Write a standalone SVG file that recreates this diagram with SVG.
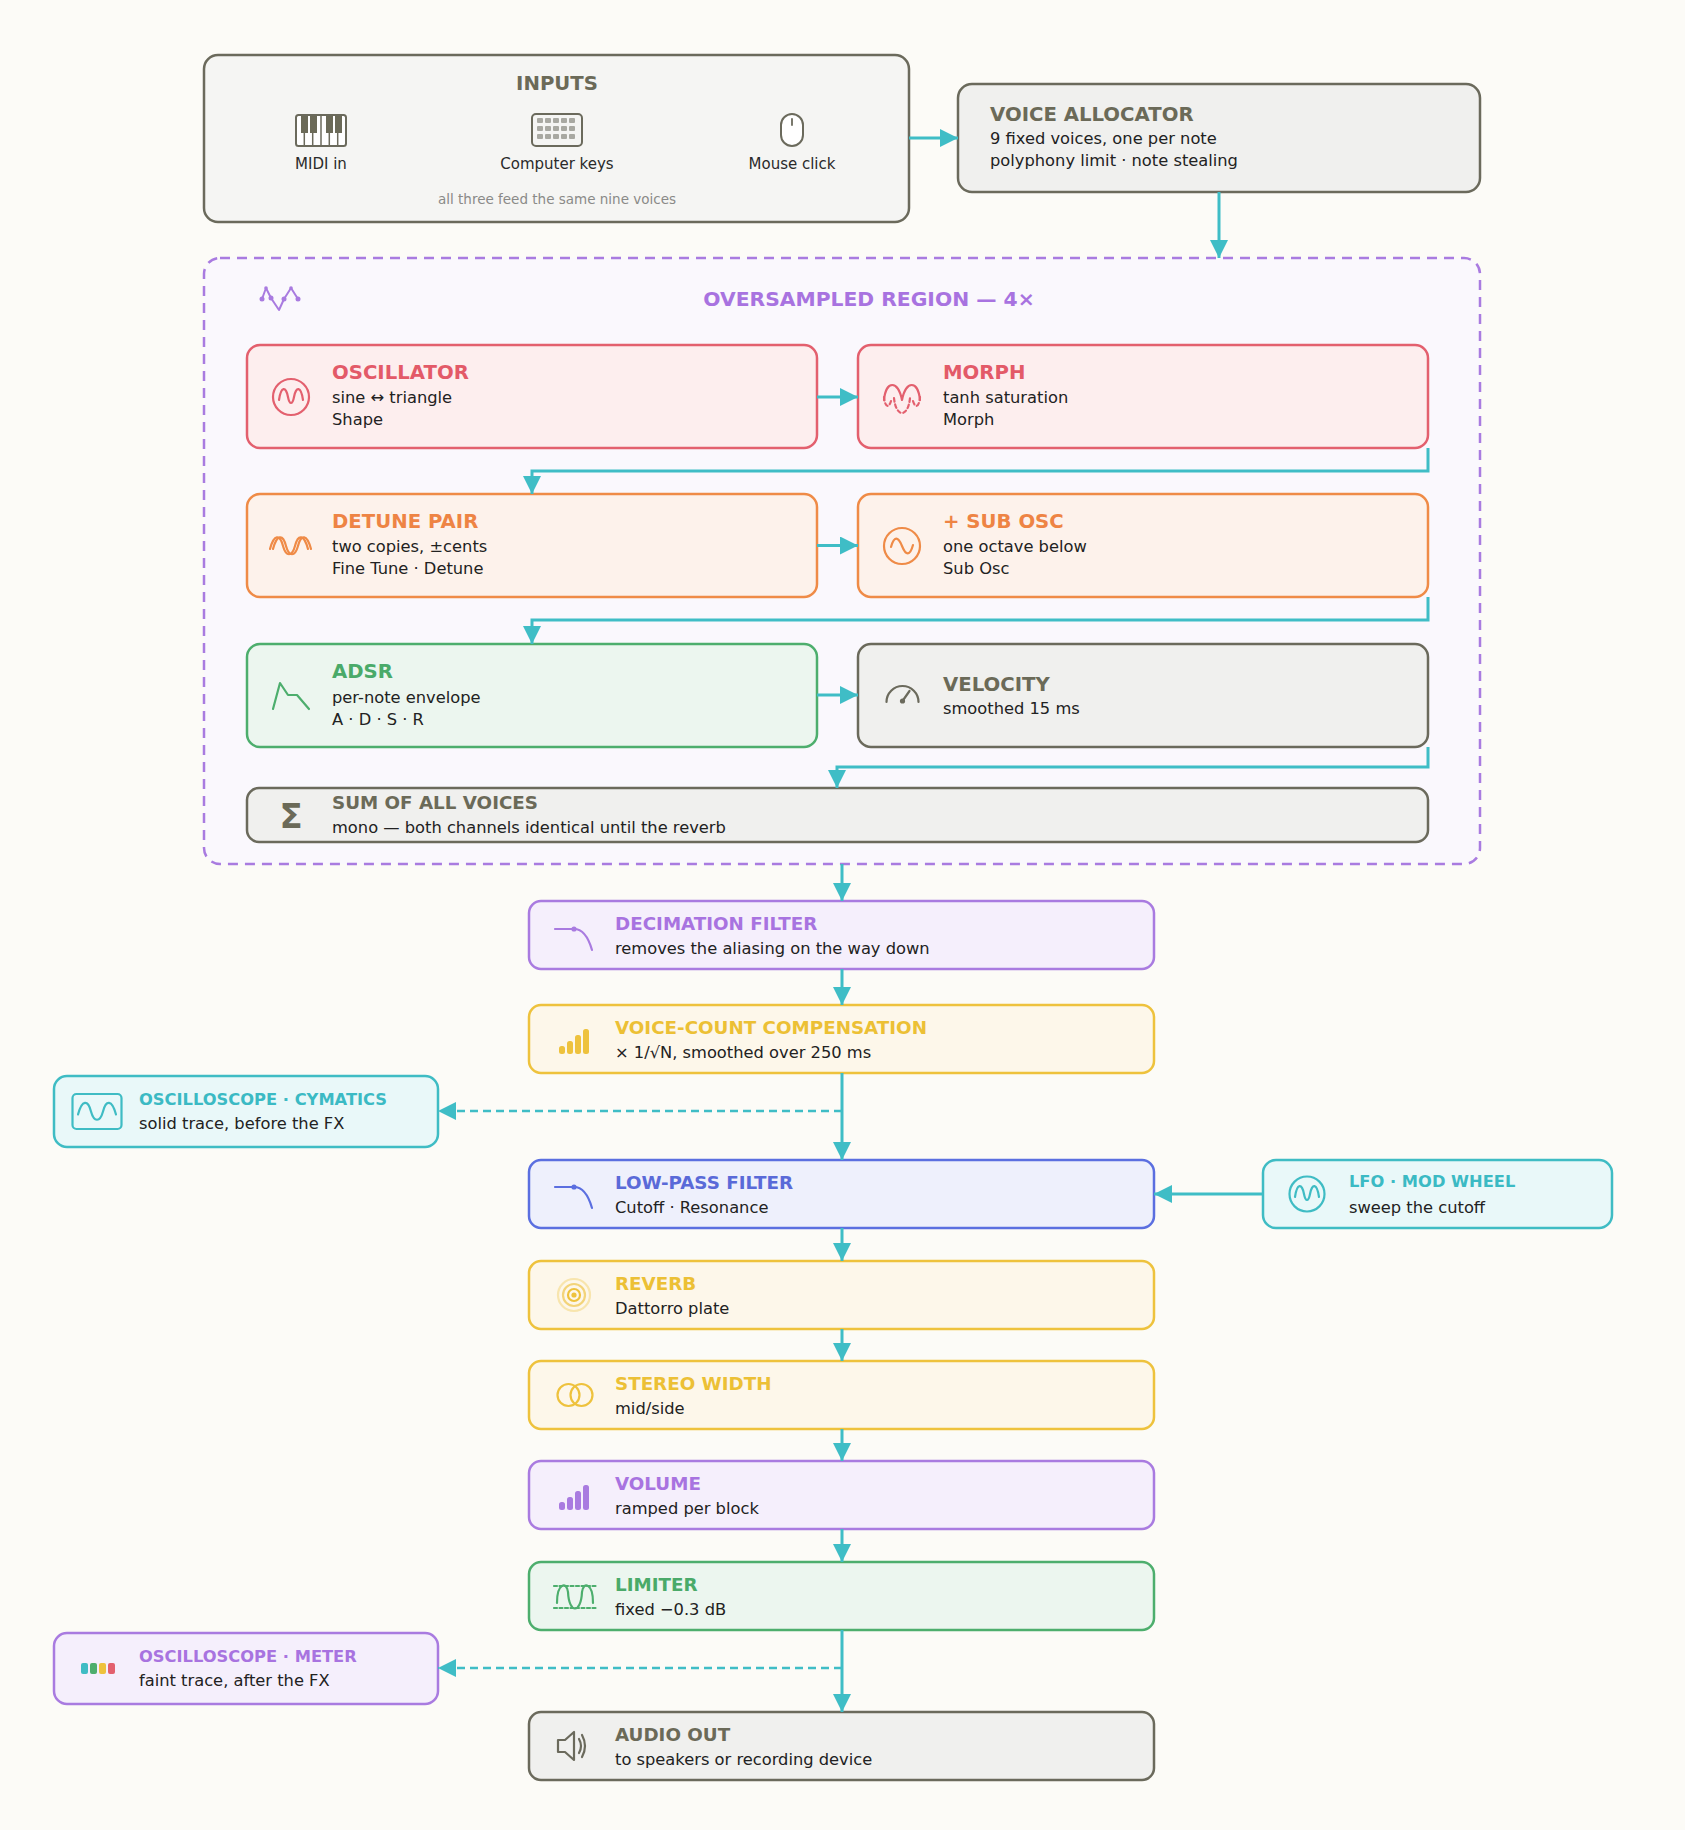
<svg xmlns="http://www.w3.org/2000/svg" width="1685" height="1830" viewBox="0 0 1685 1830">
<defs>
<style>
text { font-family: "DejaVu Sans", "Liberation Sans", sans-serif; }
.t { font-weight: bold; font-size: 19.7px; }
.tm { font-weight: bold; font-size: 18.3px; }
.ts { font-weight: bold; font-size: 16.3px; }
.b { font-size: 16.3px; fill: #222222; }
.lbl { font-size: 15px; fill: #2a2a2a; text-anchor: middle; }
.foot { font-size: 13.5px; fill: #8a8a88; text-anchor: middle; }
.box { stroke-width: 2.5; }
.ic { fill: none; stroke-width: 2.2; stroke-linecap: round; stroke-linejoin: round; }
.gray .box { fill: #f0f0ee; stroke: #6b6a5c; } .gray .t, .gray .tm { fill: #6b6a58; } .gray .ic { stroke: #6b6a5c; }
.red .box { fill: #fdeeee; stroke: #e3606e; } .red .t { fill: #e35a68; } .red .ic { stroke: #e3606e; }
.orange .box { fill: #fdf2eb; stroke: #ef8b47; } .orange .t { fill: #ee8444; } .orange .ic { stroke: #ef8b47; }
.green .box { fill: #ecf6ef; stroke: #4dae6d; } .green .t, .green .tm { fill: #4aaa69; } .green .ic { stroke: #4dae6d; }
.purple .box { fill: #f5effc; stroke: #a97be0; } .purple .tm, .purple .ts { fill: #a873e0; } .purple .ic { stroke: #a97be0; }
.yellow .box { fill: #fdf7ea; stroke: #eec23d; } .yellow .tm { fill: #ecc035; } .yellow .ic { stroke: #eec23d; }
.blue .box { fill: #eef0fc; stroke: #5b6fe0; } .blue .tm { fill: #5a6ad8; } .blue .ic { stroke: #5b6fe0; }
.teal .box { fill: #e9f8f9; stroke: #3fbcc4; } .teal .ts { fill: #3bbac4; } .teal .ic { stroke: #3fbcc4; }
.conn { fill: none; stroke: #3fbdc6; stroke-width: 3; }
.dash { stroke-width: 2.5; stroke-dasharray: 8 5; }
</style>
<marker id="ah" markerWidth="18" markerHeight="18" refX="18" refY="9" orient="auto" markerUnits="userSpaceOnUse">
<path d="M0,0 L18,9 L0,18 z" fill="#3fbdc6"/>
</marker>
</defs>

<rect x="0" y="0" width="1685" height="1830" fill="#fcfbf7"/>

<!-- Oversampled region -->
<g id="oversampled-region">
<rect x="204" y="258" width="1276" height="606" rx="16" fill="#faf8fd" stroke="#a97be0" stroke-width="2.5" stroke-dasharray="10 7"/>
<g fill="none" stroke="#a97be0" stroke-width="2" stroke-linejoin="round" stroke-linecap="round">
<path d="M262,299 L266,288 L271,298 L279,310 L284,299 L291,288 L298,299"/>
</g>
<g fill="#a97be0">
<circle cx="262" cy="299" r="2.5"/><circle cx="271" cy="298" r="2.5"/><circle cx="284" cy="299" r="2.5"/><circle cx="298" cy="299" r="2.5"/><circle cx="266" cy="288" r="1.8"/><circle cx="291" cy="288" r="1.8"/>
</g>
<text x="869" y="306" text-anchor="middle" font-weight="bold" font-size="20.3" fill="#a873e0">OVERSAMPLED REGION — 4×</text>
</g>

<!-- Inputs -->
<g id="inputs" class="gray">
<rect class="box" x="204" y="55" width="705" height="167" rx="14" style="fill:#f5f5f3"/>
<text class="t" x="557" y="90" text-anchor="middle">INPUTS</text>
<g id="piano">
<rect x="296" y="115" width="50" height="31" rx="2.5" fill="#ffffff" stroke="#6b6a5c" stroke-width="2"/>
<g stroke="#6b6a5c" stroke-width="1.5">
<line x1="304.3" y1="116" x2="304.3" y2="145"/><line x1="312.7" y1="116" x2="312.7" y2="145"/><line x1="321" y1="116" x2="321" y2="145"/><line x1="329.3" y1="116" x2="329.3" y2="145"/><line x1="337.7" y1="116" x2="337.7" y2="145"/>
</g>
<g fill="#6b6a58">
<rect x="301" y="116" width="7" height="17"/><rect x="310" y="116" width="7" height="17"/><rect x="326" y="116" width="7" height="17"/><rect x="335" y="116" width="7" height="17"/>
</g>
</g>
<text class="lbl" x="321" y="169">MIDI in</text>
<g id="keyboard">
<rect x="532" y="114" width="50" height="32" rx="4" fill="#f5f5f3" stroke="#6b6a5c" stroke-width="2"/>
<g fill="#a9a9a2">
<rect x="537" y="118" width="6" height="5" rx="1"/><rect x="545" y="118" width="6" height="5" rx="1"/><rect x="553" y="118" width="6" height="5" rx="1"/><rect x="561" y="118" width="6" height="5" rx="1"/><rect x="569" y="118" width="6" height="5" rx="1"/>
<rect x="537" y="126" width="6" height="5" rx="1"/><rect x="545" y="126" width="6" height="5" rx="1"/><rect x="553" y="126" width="6" height="5" rx="1"/><rect x="561" y="126" width="6" height="5" rx="1"/><rect x="569" y="126" width="6" height="5" rx="1"/>
<rect x="537" y="134" width="6" height="5" rx="1"/><rect x="545" y="134" width="6" height="5" rx="1"/><rect x="553" y="134" width="6" height="5" rx="1"/><rect x="561" y="134" width="6" height="5" rx="1"/><rect x="569" y="134" width="6" height="5" rx="1"/>
</g>
</g>
<text class="lbl" x="557" y="169">Computer keys</text>
<g id="mouse">
<rect x="781" y="114" width="22" height="32" rx="11" fill="#ffffff" stroke="#6b6a5c" stroke-width="2"/>
<line x1="792" y1="119" x2="792" y2="125" stroke="#6b6a5c" stroke-width="1.8" stroke-linecap="round"/>
</g>
<text class="lbl" x="792" y="169">Mouse click</text>
<text class="foot" x="557" y="204">all three feed the same nine voices</text>
</g>

<!-- Voice allocator -->
<g id="voice-allocator" class="gray">
<rect class="box" x="958" y="84" width="522" height="108" rx="14"/>
<text class="t" x="990" y="121">VOICE ALLOCATOR</text>
<text class="b" x="990" y="144">9 fixed voices, one per note</text>
<text class="b" x="990" y="166">polyphony limit · note stealing</text>
</g>

<!-- Oscillator -->
<g id="oscillator" class="red">
<rect class="box" x="247" y="345" width="570" height="103" rx="13"/>
<g transform="translate(291,397)"><circle class="ic" r="18"/><path class="ic" d="M-12,3 C-10,-11 -5,-11 -3,0 C-1.5,8 1.5,8 3,0 C5,-11 10,-11 12,3"/></g>
<text class="t" x="332" y="379">OSCILLATOR</text>
<text class="b" x="332" y="403">sine ↔ triangle</text>
<text class="b" x="332" y="425">Shape</text>
</g>

<!-- Morph -->
<g id="morph" class="red">
<rect class="box" x="858" y="345" width="570" height="103" rx="13"/>
<g transform="translate(902,398)">
<path class="ic" d="M-18,2 C-16,-18 -4,-18 0,2 C4,-18 16,-18 18,2"/>
<path class="ic" stroke-dasharray="3.5 3" d="M-18,-1 C-17,10 -13,10 -11,3 M-8,0 C-6,20 6,20 8,0 M11,3 C13,10 17,10 18,-1"/>
</g>
<text class="t" x="943" y="379">MORPH</text>
<text class="b" x="943" y="403">tanh saturation</text>
<text class="b" x="943" y="425">Morph</text>
</g>

<!-- Detune pair -->
<g id="detune-pair" class="orange">
<rect class="box" x="247" y="494" width="570" height="103" rx="13"/>
<g transform="translate(289,546)">
<path class="ic" d="M-19,3 C-15,-12 -9,-12 -6,0 C-3,11 3,11 6,0 C9,-12 15,-12 19,3"/>
<path class="ic" transform="translate(3,0)" d="M-19,3 C-15,-12 -9,-12 -6,0 C-3,11 3,11 6,0 C9,-12 15,-12 19,3"/>
</g>
<text class="t" x="332" y="528">DETUNE PAIR</text>
<text class="b" x="332" y="552">two copies, ±cents</text>
<text class="b" x="332" y="574">Fine Tune · Detune</text>
</g>

<!-- Sub osc -->
<g id="sub-osc" class="orange">
<rect class="box" x="858" y="494" width="570" height="103" rx="13"/>
<g transform="translate(902,546)"><circle class="ic" r="18"/><path class="ic" d="M-11,1 C-8,-10 -4,-10 0,0 C4,10 8,10 11,-1"/></g>
<text class="t" x="943" y="528">+ SUB OSC</text>
<text class="b" x="943" y="552">one octave below</text>
<text class="b" x="943" y="574">Sub Osc</text>
</g>

<!-- ADSR -->
<g id="adsr" class="green">
<rect class="box" x="247" y="644" width="570" height="103" rx="13"/>
<polyline class="ic" points="273,709 280,683 288,695 297,695 309,709"/>
<text class="t" x="332" y="678">ADSR</text>
<text class="b" x="332" y="703">per-note envelope</text>
<text class="b" x="332" y="725">A · D · S · R</text>
</g>

<!-- Velocity -->
<g id="velocity" class="gray">
<rect class="box" x="858" y="644" width="570" height="103" rx="13"/>
<g transform="translate(902.5,702)">
<path class="ic" d="M-16,0 A16,16 0 0 1 16,0"/>
<path class="ic" d="M0,-1 L7,-11"/>
<circle cx="0" cy="-1" r="2.6" fill="#6b6a5c"/>
</g>
<text class="t" x="943" y="691">VELOCITY</text>
<text class="b" x="943" y="714">smoothed 15 ms</text>
</g>

<!-- Sum -->
<g id="sum-of-all-voices" class="gray">
<rect class="box" x="247" y="788" width="1181" height="54" rx="12"/>
<text x="291" y="828" text-anchor="middle" font-weight="bold" font-size="34" fill="#6b6a58">Σ</text>
<text class="tm" x="332" y="809">SUM OF ALL VOICES</text>
<text class="b" x="332" y="833">mono — both channels identical until the reverb</text>
</g>

<!-- Decimation filter -->
<g id="decimation-filter" class="purple">
<rect class="box" x="529" y="901" width="625" height="68" rx="12"/>
<g transform="translate(573,935)"><path class="ic" d="M-18,-6 H1 Q13,-6 19,15"/><circle cx="1" cy="-6" r="2.6" fill="#a97be0"/></g>
<text class="tm" x="615" y="930">DECIMATION FILTER</text>
<text class="b" x="615" y="954">removes the aliasing on the way down</text>
</g>

<!-- Voice-count compensation -->
<g id="voice-count-compensation" class="yellow">
<rect class="box" x="529" y="1005" width="625" height="68" rx="12"/>
<g fill="#eec23d">
<rect x="559" y="1046" width="6" height="8" rx="2.5"/><rect x="567" y="1041" width="6" height="13" rx="2.5"/><rect x="575" y="1035" width="6" height="19" rx="2.5"/><rect x="583" y="1029" width="6" height="25" rx="2.5"/>
</g>
<text class="tm" x="615" y="1034">VOICE-COUNT COMPENSATION</text>
<text class="b" x="615" y="1058">× 1/√N, smoothed over 250 ms</text>
</g>

<!-- Oscilloscope cymatics -->
<g id="oscilloscope-cymatics" class="teal">
<rect class="box" x="54" y="1076" width="384" height="71" rx="13"/>
<g transform="translate(97,1111.5)">
<rect class="ic" x="-24.5" y="-17.5" width="49" height="35" rx="4"/>
<path class="ic" d="M-19,3 C-15,-12 -9,-12 -6,0 C-3,11 3,11 6,0 C9,-12 15,-12 19,3"/>
</g>
<text class="ts" x="139" y="1105">OSCILLOSCOPE · CYMATICS</text>
<text class="b" x="139" y="1129">solid trace, before the FX</text>
</g>

<!-- Low-pass filter -->
<g id="low-pass-filter" class="blue">
<rect class="box" x="529" y="1160" width="625" height="68" rx="12"/>
<g transform="translate(573,1194)"><path class="ic" d="M-18,-7 H1 Q13,-7 19,14"/><circle cx="1" cy="-7" r="2.6" fill="#5b6fe0"/></g>
<text class="tm" x="615" y="1189">LOW-PASS FILTER</text>
<text class="b" x="615" y="1213">Cutoff · Resonance</text>
</g>

<!-- LFO -->
<g id="lfo-mod-wheel" class="teal">
<rect class="box" x="1263" y="1160" width="349" height="68" rx="13"/>
<g transform="translate(1307,1194)"><circle class="ic" r="17.5"/><path class="ic" d="M-12,3 C-10,-11 -5,-11 -3,0 C-1.5,8 1.5,8 3,0 C5,-11 10,-11 12,3"/></g>
<text class="ts" x="1349" y="1187">LFO · MOD WHEEL</text>
<text class="b" x="1349" y="1213">sweep the cutoff</text>
</g>

<!-- Reverb -->
<g id="reverb" class="yellow">
<rect class="box" x="529" y="1261" width="625" height="68" rx="12"/>
<g transform="translate(574,1295)">
<circle class="ic" r="16" stroke-opacity="0.35"/>
<circle class="ic" r="11" stroke-opacity="0.65"/>
<circle class="ic" r="6"/>
<circle r="2.6" fill="#eec23d"/>
</g>
<text class="tm" x="615" y="1290">REVERB</text>
<text class="b" x="615" y="1314">Dattorro plate</text>
</g>

<!-- Stereo width -->
<g id="stereo-width" class="yellow">
<rect class="box" x="529" y="1361" width="625" height="68" rx="12"/>
<g transform="translate(575,1395)"><circle class="ic" cx="-6.5" r="11" stroke-width="2.5"/><circle class="ic" cx="6.5" r="11" stroke-width="2.5"/></g>
<text class="tm" x="615" y="1390">STEREO WIDTH</text>
<text class="b" x="615" y="1414">mid/side</text>
</g>

<!-- Volume -->
<g id="volume" class="purple">
<rect class="box" x="529" y="1461" width="625" height="68" rx="12"/>
<g fill="#a97be0">
<rect x="559" y="1502" width="6" height="8" rx="2.5"/><rect x="567" y="1497" width="6" height="13" rx="2.5"/><rect x="575" y="1491" width="6" height="19" rx="2.5"/><rect x="583" y="1485" width="6" height="25" rx="2.5"/>
</g>
<text class="tm" x="615" y="1490">VOLUME</text>
<text class="b" x="615" y="1514">ramped per block</text>
</g>

<!-- Limiter -->
<g id="limiter" class="green">
<rect class="box" x="529" y="1562" width="625" height="68" rx="12"/>
<g transform="translate(575,1596)">
<path class="ic" stroke-width="1.6" stroke-dasharray="3 2.5" d="M-21,-10 H21 M-21,12 H21"/>
<path class="ic" d="M-18,7 C-18,-14 -8,-14 -7,-4 C-6,18 6,18 7,-4 C8,-14 18,-14 18,7"/>
</g>
<text class="tm" x="615" y="1591">LIMITER</text>
<text class="b" x="615" y="1615">fixed −0.3 dB</text>
</g>

<!-- Oscilloscope meter -->
<g id="oscilloscope-meter" class="purple">
<rect class="box" x="54" y="1633" width="384" height="71" rx="13"/>
<rect x="81" y="1663" width="7" height="11" rx="2" fill="#3fbcc4"/>
<rect x="90" y="1663" width="7" height="11" rx="2" fill="#4dae6d"/>
<rect x="99" y="1663" width="7" height="11" rx="2" fill="#eec23d"/>
<rect x="108" y="1663" width="7" height="11" rx="2" fill="#e3606e"/>
<text class="ts" x="139" y="1662">OSCILLOSCOPE · METER</text>
<text class="b" x="139" y="1686">faint trace, after the FX</text>
</g>

<!-- Audio out -->
<g id="audio-out" class="gray">
<rect class="box" x="529" y="1712" width="625" height="68" rx="12"/>
<g transform="translate(571,1746)">
<path class="ic" d="M-13,-6 H-6 L3,-14 V14 L-6,6 H-13 Z"/>
<path class="ic" d="M8,-7 Q12,0 8,7 M11,-11 Q17,0 11,11"/>
</g>
<text class="tm" x="615" y="1741">AUDIO OUT</text>
<text class="b" x="615" y="1765">to speakers or recording device</text>
</g>

<!-- Connectors -->
<g id="connectors">
<path class="conn" marker-end="url(#ah)" d="M909,138 H958"/>
<path class="conn" marker-end="url(#ah)" d="M1219,192 V258"/>
<path class="conn" marker-end="url(#ah)" d="M817,397 H858"/>
<path class="conn" marker-end="url(#ah)" d="M1428,448 V471 H532 V494"/>
<path class="conn" marker-end="url(#ah)" d="M817,545.5 H858"/>
<path class="conn" marker-end="url(#ah)" d="M1428,597 V620 H532 V644"/>
<path class="conn" marker-end="url(#ah)" d="M817,695 H858"/>
<path class="conn" marker-end="url(#ah)" d="M1428,747 V767 H837 V788"/>
<path class="conn" marker-end="url(#ah)" d="M842,864 V901"/>
<path class="conn" marker-end="url(#ah)" d="M842,969 V1005"/>
<path class="conn" marker-end="url(#ah)" d="M842,1073 V1160"/>
<path class="conn dash" marker-end="url(#ah)" d="M842,1111 H438"/>
<path class="conn" marker-end="url(#ah)" d="M1263,1194 H1154"/>
<path class="conn" marker-end="url(#ah)" d="M842,1228 V1261"/>
<path class="conn" marker-end="url(#ah)" d="M842,1329 V1361"/>
<path class="conn" marker-end="url(#ah)" d="M842,1429 V1461"/>
<path class="conn" marker-end="url(#ah)" d="M842,1529 V1562"/>
<path class="conn" marker-end="url(#ah)" d="M842,1630 V1712"/>
<path class="conn dash" marker-end="url(#ah)" d="M842,1668 H438"/>
</g>
</svg>
